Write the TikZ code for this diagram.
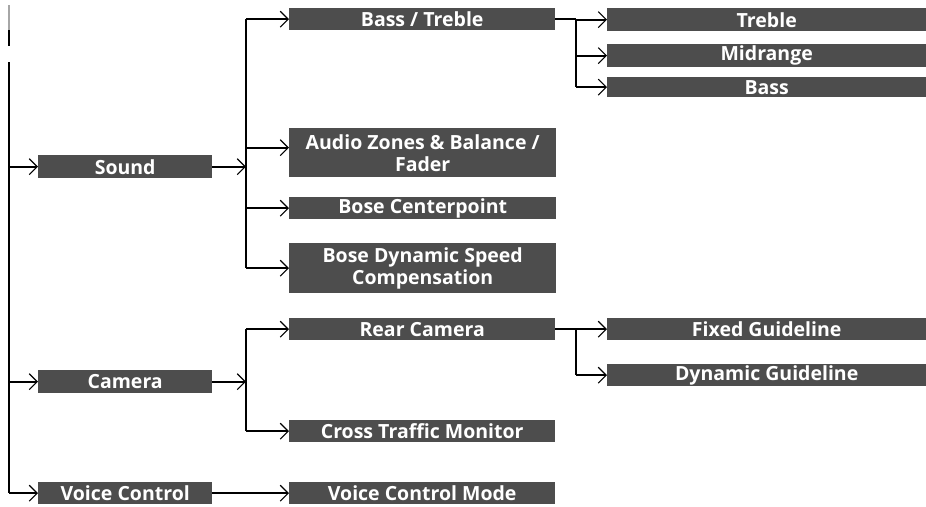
\documentclass[tikz,border=0pt]{standalone}
\usepackage{fontspec}
\setmainfont{Open Sans}
\usetikzlibrary{arrows.meta}
\definecolor{boxgray}{HTML}{4D4D4D}
\begin{document}
\begin{tikzpicture}[x=1pt,y=-1pt,
  box/.style={fill=boxgray,text=white,font=\fontsize{19.5}{22}\selectfont\bfseries,inner sep=0pt,anchor=north west,align=center},
  conn/.style={line width=1.6pt,black},
  arr/.style={conn,-{Straight Barb[length=8pt,width=16pt,line width=1.1pt]}}]
\useasboundingbox (0,0) rectangle (926,506);
% nodes
\node[box,minimum width=174pt,minimum height=23pt] (sound) at (38,155) {Sound};
\node[box,minimum width=174pt,minimum height=23pt] (camera) at (38,370) {Camera};
\node[box,minimum width=174pt,minimum height=22pt] (voice) at (38,482) {Voice Control};
\node[box,minimum width=266pt,minimum height=22pt] (bt) at (289,8) {Bass / Treble};
\node[box,minimum width=267pt,minimum height=49pt] (az) at (289,128) {Audio Zones \& Balance /\\Fader};
\node[box,minimum width=267pt,minimum height=22pt] (bc) at (289,197) {Bose Centerpoint};
\node[box,minimum width=267pt,minimum height=50pt] (bd) at (289,243) {Bose Dynamic Speed\\Compensation};
\node[box,minimum width=266pt,minimum height=22pt] (rc) at (289,318) {Rear Camera};
\node[box,minimum width=266pt,minimum height=22pt] (ct) at (289,420) {Cross Traffic Monitor};
\node[box,minimum width=266pt,minimum height=22pt] (vm) at (289,482) {Voice Control Mode};
\node[box,minimum width=319pt,minimum height=23pt] (tr) at (607,8) {Treble};
\node[box,minimum width=319pt,minimum height=23pt] (mr) at (607,44) {Midrange};
\node[box,minimum width=319pt,minimum height=20pt] (bs) at (607,77) {Bass};
\node[box,minimum width=319pt,minimum height=22pt] (fg) at (607,318) {Fixed Guideline};
\node[box,minimum width=319pt,minimum height=22pt] (dg) at (607,364) {Dynamic Guideline};
% junction columns
\coordinate (trunk) at (9,62);
\coordinate (jA) at (246,0);
\coordinate (jB) at (576,0);
% left trunk
\draw[conn,gray!70] (9,5) -- (9,30);
\draw[conn] (9,30) -- (9,46);
\draw[conn] (trunk) -- (voice.west -| trunk);
\draw[arr] (sound.west -| trunk) -- (sound.west);
\draw[arr] (camera.west -| trunk) -- (camera.west);
\draw[arr] (voice.west -| trunk) -- (voice.west);
% sound
\draw[arr] (sound.east) -- (sound.east -| jA);
\draw[conn] (bt.west -| jA) -- (bd.west -| jA);
\draw[arr] (bt.west -| jA) -- (bt.west);
\draw[arr] ([yshift=5pt]az.west -| jA) -- ([yshift=5pt]az.west);
\draw[arr] (bc.west -| jA) -- (bc.west);
\draw[arr] (bd.west -| jA) -- (bd.west);
% bass/treble
\draw[conn] (bt.east) -- (bt.east -| jB);
\draw[conn] (bt.east -| jB) -- (bs.west -| jB);
\draw[arr] (tr.west -| jB) -- (tr.west);
\draw[arr] (mr.west -| jB) -- (mr.west);
\draw[arr] (bs.west -| jB) -- (bs.west);
% camera
\draw[arr] (camera.east) -- (camera.east -| jA);
\draw[conn] (rc.west -| jA) -- (ct.west -| jA);
\draw[arr] (rc.west -| jA) -- (rc.west);
\draw[arr] (ct.west -| jA) -- (ct.west);
\draw[conn] (rc.east) -- (rc.east -| jB);
\draw[conn] (rc.east -| jB) -- (dg.west -| jB);
\draw[arr] (fg.west -| jB) -- (fg.west);
\draw[arr] (dg.west -| jB) -- (dg.west);
% voice
\draw[arr] (voice.east) -- (vm.west);
\end{tikzpicture}
\end{document}
